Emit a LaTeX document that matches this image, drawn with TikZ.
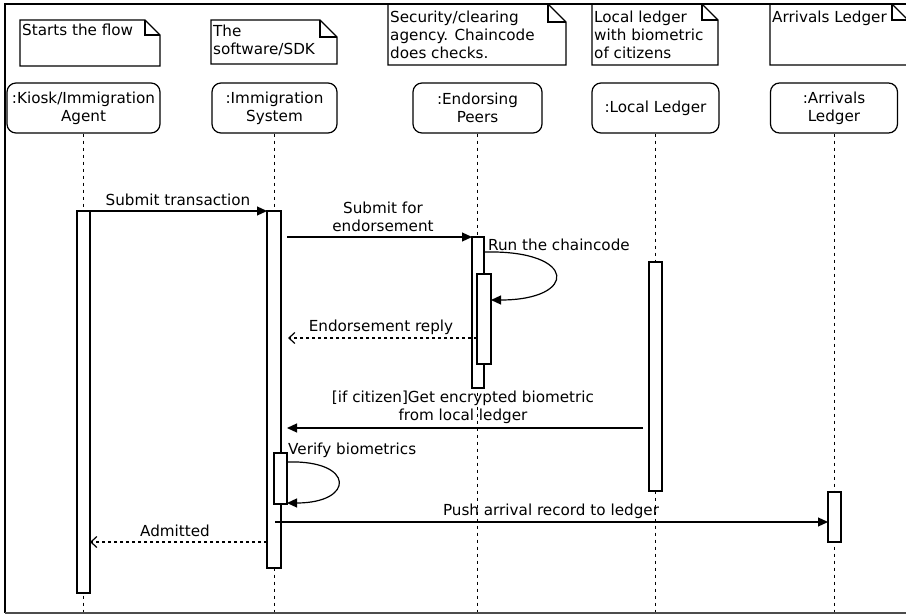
\documentclass[tikz,border=0pt]{standalone}
\usepackage{fontspec}
\setmainfont{DejaVu Sans}
\usetikzlibrary{arrows.meta}

\begin{document}
\begin{tikzpicture}[x=1pt, y=-1pt, >={Triangle[length=10pt,width=9pt]},
  every node/.style={font=\fontsize{15.2}{18}\selectfont},
  head/.style={draw, line width=1.2pt, rounded corners=9pt, align=center, inner sep=0pt, minimum height=50pt},
  lifeline/.style={line width=1pt, dash pattern=on 3.5pt off 3.5pt},
  bar/.style={draw, fill=white, line width=1.2pt},
  note/.style={line width=1.2pt},
  notetext/.style={anchor=north west, inner sep=0pt, align=left},
  msg/.style={->, line width=1.2pt},
  reply/.style={-{Straight Barb[length=6pt,width=11pt]}, line width=1.2pt, dash pattern=on 3pt off 3pt}]

  \useasboundingbox (0,0) rectangle (906,615);

  % Notes
  \draw[note] (20,20) -- (145,20) -- (160,35) -- (160,66) -- (20,66) -- cycle;
  \draw[note] (145,20) |- (160,35);
  \node[notetext] (nflow) at (22,24) {Starts the flow};

  \draw[note] (211,20) -- (320,20) -- (337,37) -- (337,64) -- (211,64) -- cycle;
  \draw[note] (320,20) |- (337,37);
  \node[notetext] (nsdk) at (213,25) {The\\software/SDK};

  \draw[note] (388,4) -- (548,4) -- (566,22) -- (566,65) -- (388,65) -- cycle;
  \draw[note] (548,4) |- (566,22);
  \node[notetext] (nsec) at (390,11) {Security/clearing\\agency. Chaincode\\does checks.};

  \draw[note] (592,4) -- (702,4) -- (718,20) -- (718,65) -- (592,65) -- cycle;
  \draw[note] (702,4) |- (718,20);
  \node[notetext] (nlocal) at (594,11) {Local ledger\\with biometric\\of citizens};

  \draw[note] (770,4) -- (892,4) -- (908,20) -- (908,65) -- (770,65) -- cycle;
  \draw[note] (892,4) |- (908,20);
  \node[notetext] (narr) at (772,11) {Arrivals Ledger};

  % Lifeline heads
  \node[head, minimum width=153pt] (kiosk) at (83.5,108) {:Kiosk/Immigration\\Agent};
  \node[head, minimum width=125pt] (imsys) at (274.5,108) {:Immigration\\System};
  \node[head, minimum width=129pt] (peers) at (477.5,108) {:Endorsing\\Peers};
  \node[head, minimum width=127pt] (local) at (655.5,108) {:Local Ledger};
  \node[head, minimum width=127pt] (arriv) at (834,108) {:Arrivals\\Ledger};

  % Lifelines
  \draw[lifeline] (kiosk.south) -- (kiosk.south |- 0,613);
  \draw[lifeline] (imsys.south) -- (imsys.south |- 0,613);
  \draw[lifeline] (peers.south) -- (peers.south |- 0,613);
  \draw[lifeline] (local.south) -- (local.south |- 0,613);
  \draw[lifeline] (arriv.south) -- (arriv.south |- 0,613);

  % Activation bars
  \draw[bar] (77,211) rectangle (90,593);
  \draw[bar] (267,211) rectangle (281,568);
  \draw[bar] (472,237) rectangle (484,388);
  \draw[bar] (477,274) rectangle (491,364);
  \draw[bar] (649,262) rectangle (662,491);
  \draw[bar] (274,453) rectangle (287,504);
  \draw[bar] (828,492) rectangle (841,542);

  % Message end points
  \coordinate (k1) at (90,211);
  \coordinate (i1) at (267,211);
  \coordinate (i2) at (287,237);
  \coordinate (e1) at (472,237);
  \coordinate (e2) at (485,252);
  \coordinate (e3) at (491,300);
  \coordinate (e4) at (477,338);
  \coordinate (i3) at (288,338);
  \coordinate (l1) at (643,428);
  \coordinate (i4) at (287,428);
  \coordinate (i5) at (288,462);
  \coordinate (i6) at (287,503);
  \coordinate (i7) at (275,522);
  \coordinate (a1) at (828,522);
  \coordinate (i8) at (267,542);
  \coordinate (k2) at (90,542);

  % Messages
  \draw[msg] (k1) -- (i1);
  \draw[msg] (i2) -- (e1);
  \draw[msg] (e2) .. controls (578,250) and (578,300) .. (e3);
  \draw[reply] (e4) -- (i3);
  \draw[msg] (l1) -- (i4);
  \draw[msg] (i5) .. controls (355,460) and (355,503) .. (i6);
  \draw[msg] (i7) -- (a1);
  \draw[reply] (i8) -- (k2);

  % Labels
  \node (tsubmit) at (178,200) {Submit transaction};
  \node[align=center] (tendorse) at (383,217) {Submit for\\endorsement};
  \node[anchor=west, inner sep=0pt] (trun) at (488,245) {Run the chaincode};
  \node (treply) at (381,327) {Endorsement reply};
  \node[align=center] (tcitizen) at (463,407) {[if citizen]Get encrypted biometric\\from local ledger};
  \node[anchor=west, inner sep=0pt] (tverify) at (288,450) {Verify biometrics};
  \node (tpush) at (551,511) {Push arrival record to ledger};
  \node (tadmit) at (175,531) {Admitted};

  % Frame
  \draw[line width=2.5pt] (906,4) -- (5,4) -- (5,613);
  \draw[line width=1.2pt, black!70] (5,613) -- (906,613);
\end{tikzpicture}
\end{document}
